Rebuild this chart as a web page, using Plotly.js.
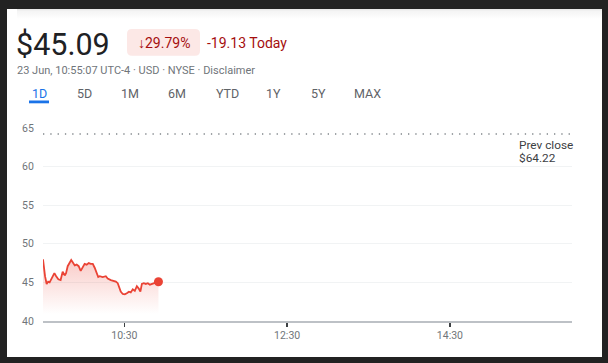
<!DOCTYPE html>
<html>
<head>
<meta charset="utf-8">
<script src="https://cdn.plot.ly/plotly-3.0.1.min.js"></script>
<style>
  html, body { margin:0; padding:0; background:#222222; width:608px; height:363px; overflow:hidden; }
  #card { position:absolute; left:7px; top:9px; width:595px; height:348px; background:#ffffff; }
  #shade { position:absolute; left:17px; top:9px; width:585px; height:10px;
           background:linear-gradient(#e4e4e4 0px, #f4f4f4 2px, #ffffff 10px); }
  #chart { position:absolute; left:0; top:0; width:608px; height:363px; }
</style>
</head>
<body>
<div id="card"></div>
<div id="shade"></div>
<div id="chart"></div>
<script>
// ---- data ----
const day = "2023-06-23";
const times = ["09:30:00","09:30:30","09:31:30","09:32:42","09:33:48","09:34:54","09:36:24","09:38:24","09:39:42","09:41:18",
               "09:43:00","09:44:30","09:46:00","09:47:00","09:48:12","09:49:42","09:50:48","09:51:54","09:53:24","09:54:48",
               "09:56:18","09:57:48","09:59:18","10:00:42","10:02:12","10:03:42","10:05:12","10:06:42","10:08:06","10:09:36",
               "10:10:42","10:11:48","10:14:00","10:16:18","10:17:42","10:20:00","10:22:12","10:23:42","10:25:06","10:26:12",
               "10:27:18","10:28:48","10:30:18","10:31:48","10:33:18","10:34:42","10:36:12","10:37:42","10:39:12","10:40:36",
               "10:41:48","10:42:54","10:44:18","10:45:48","10:47:18","10:48:48","10:50:18","10:51:42","10:53:12","10:55:07"];
const prices = [48.0,47.2,45.8,44.8,45.1,45.0,45.5,46.2,45.8,45.4,
                45.3,46.4,45.9,46.2,47.1,47.6,47.9,47.6,47.2,47.3,
                47.1,46.5,47.0,47.4,47.3,47.5,47.4,47.4,46.9,46.2,
                45.7,45.8,45.7,45.8,45.5,45.3,45.2,45.1,44.9,44.4,
                43.8,43.5,43.45,43.6,43.8,43.7,44.1,43.9,44.5,44.2,
                43.8,44.8,44.9,44.8,44.9,44.7,44.8,44.9,45.0,45.09];
const prevClose = 64.22;
const yTicks = [40,45,50,55,60,65];
const xTickTimes = ["10:30","12:30","14:30"];
const sessionStart = "09:30", sessionEnd = "16:00";
const tabs = ["1D","5D","1M","6M","YTD","1Y","5Y","MAX"];
const priceText = "$45.09";
const pctText = "\u219329.79%";
const changeText = "-19.13 Today";
const subText = "23 Jun, 10:55:07 UTC-4 \u00b7 USD \u00b7 NYSE \u00b7 Disclaimer";
const prevLabel = "Prev close";
const prevValueText = "$64.22";

// ---- layout helpers ----
const W = 608, H = 363, ML = 43, MR = 36, MT = 128, MB = 42;
const PW = W - ML - MR, PH = H - MT - MB;
const px = x => (x - ML) / PW;
const py = y => (H - MB - y) / PH;
function roundRect(x0, y0, x1, y1, r) {
  const P = (x, y) => px(x) + "," + py(y);
  return "M" + P(x0 + r, y0) + " L" + P(x1 - r, y0) + " Q" + P(x1, y0) + " " + P(x1, y0 + r) +
         " L" + P(x1, y1 - r) + " Q" + P(x1, y1) + " " + P(x1 - r, y1) +
         " L" + P(x0 + r, y1) + " Q" + P(x0, y1) + " " + P(x0, y1 - r) +
         " L" + P(x0, y0 + r) + " Q" + P(x0, y0) + " " + P(x0 + r, y0) + " Z";
}

const xs = times.map(t => day + " " + t);
const red = "#ea4335";
const FONT = "Roboto, Arial, sans-serif";

const traces = [
  {
    x: xs, y: prices, type: "scatter", mode: "lines",
    line: { color: red, width: 1.8 },
    fill: "tozeroy",
    fillgradient: { type: "vertical", start: 40.8, stop: 48,
      colorscale: [[0, "rgba(234,67,53,0)"], [1, "rgba(234,67,53,0.28)"]] },
    hoverinfo: "skip"
  },
  {
    x: [xs[xs.length - 1]], y: [prices[prices.length - 1]],
    type: "scatter", mode: "markers",
    marker: { color: red, size: 9 }, hoverinfo: "skip"
  }
];

const tabCenters = [39, 84, 130, 177, 227, 273, 318, 367];
const annotations = [
  { text: priceText, x: px(15), y: py(44.5), xanchor: "left", yanchor: "middle",
    font: { family: FONT, size: 30.5, color: "#202124" } },
  { text: pctText, x: px(163.5), y: py(42.5), xanchor: "center", yanchor: "middle",
    font: { family: FONT, size: 14, color: "#a50e0e" } },
  { text: changeText, x: px(206), y: py(42.5), xanchor: "left", yanchor: "middle",
    font: { family: FONT, size: 14, color: "#a50e0e" } },
  { text: subText, x: px(16), y: py(70), xanchor: "left", yanchor: "middle",
    font: { family: FONT, size: 11, color: "#70757a" } },
  { text: prevLabel, x: px(518), y: py(144.5), xanchor: "left", yanchor: "middle",
    font: { family: FONT, size: 11.8, color: "#3c4043" } },
  { text: prevValueText, x: px(518), y: py(158), xanchor: "left", yanchor: "middle",
    font: { family: FONT, size: 11.8, color: "#3c4043" } }
];
tabs.forEach((t, i) => annotations.push({
  text: t, x: px(tabCenters[i]), y: py(93.5), xanchor: "center", yanchor: "middle",
  font: { family: FONT, size: 12.5, color: i === 0 ? "#1a73e8" : "#5f6368" }
}));
annotations.forEach(a => { a.xref = "paper"; a.yref = "paper"; a.showarrow = false; a.borderpad = 0; });

const shapes = [
  { type: "path", xref: "paper", yref: "paper", path: roundRect(127, 29, 200, 55.7, 5),
    fillcolor: "#fce8e6", line: { width: 0 }, layer: "below" },
  { type: "rect", xref: "paper", yref: "paper", x0: px(29), x1: px(49), y0: py(100.5), y1: py(103.3),
    fillcolor: "#1a73e8", line: { width: 0 } },
  { type: "line", xref: "paper", yref: "y", x0: 0, x1: 1, y0: prevClose, y1: prevClose,
    line: { color: "#80868b", width: 1.3, dash: "1.3px,6px" }, layer: "below" }
];

const layout = {
  width: W, height: H,
  margin: { l: ML, r: MR, t: MT, b: MB, pad: 0 },
  paper_bgcolor: "rgba(0,0,0,0)", plot_bgcolor: "rgba(0,0,0,0)",
  showlegend: false, hovermode: false,
  font: { family: FONT },
  xaxis: {
    type: "date",
    range: [day + " " + sessionStart, day + " " + sessionEnd],
    tickvals: xTickTimes.map(t => day + " " + t),
    ticktext: xTickTimes,
    showgrid: false, zeroline: false,
    showline: true, linecolor: "#bdc1c6", linewidth: 1.5,
    ticks: "outside", ticklen: 4, tickwidth: 1.5, tickcolor: "#3c4043",
    tickfont: { family: FONT, size: 10.5, color: "#70757a" },
    fixedrange: true
  },
  yaxis: {
    range: [40, 65], tickvals: yTicks,
    showgrid: true, gridcolor: "#f1f3f4", gridwidth: 1,
    zeroline: false, showline: false,
    ticks: "outside", ticklen: 6, tickcolor: "rgba(0,0,0,0)",
    tickfont: { family: FONT, size: 10.5, color: "#70757a" },
    fixedrange: true
  },
  annotations: annotations,
  shapes: shapes
};

Plotly.newPlot("chart", traces, layout, { displayModeBar: false, staticPlot: true });
</script>
</body>
</html>
